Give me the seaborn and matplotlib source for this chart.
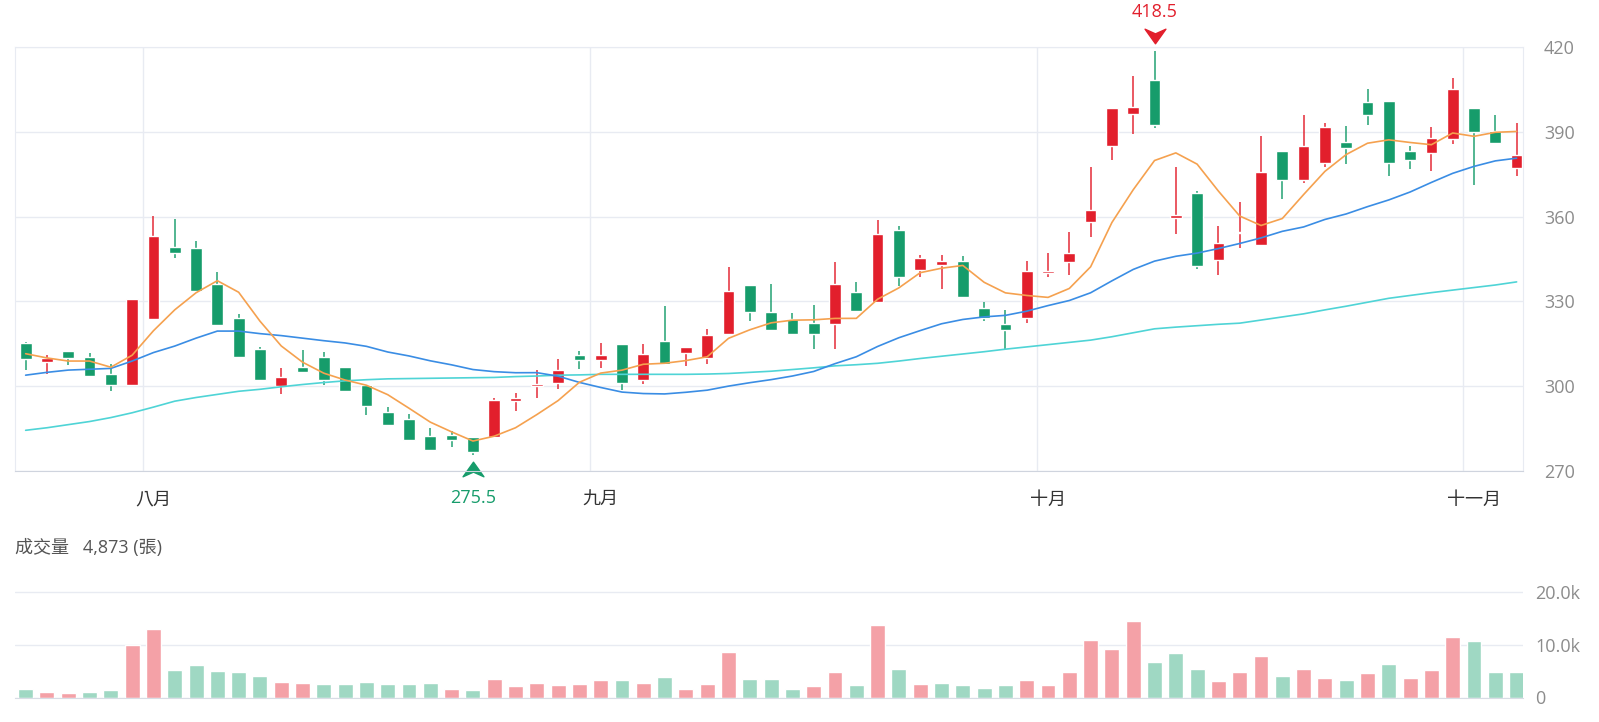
import numpy as np
import pandas as pd
import matplotlib
matplotlib.use("Agg")
import matplotlib.pyplot as plt
import seaborn as sns
from matplotlib.path import Path
from matplotlib.transforms import offset_copy

# ---------------------------
# Data
# ---------------------------
opens = [315.4, 308.6, 312.4, 310.4, 304.4, 300.4, 323.6, 349.3, 348.9, 336.1,
         324.3, 313.3, 300.1, 306.9, 310.4, 306.9, 300.4, 290.8, 288.4, 282.5,
         282.6, 281.9, 282.2, 294.6, 300.2, 301.0, 311.2, 309.2, 314.9, 302.2,
         315.9, 311.8, 310.0, 318.4, 335.8, 326.2, 323.8, 322.4, 322.1, 333.4,
         329.9, 355.4, 341.1, 342.9, 344.3, 327.7, 322.1, 324.1, 340.0, 343.9,
         358.1, 384.9, 396.4, 408.3, 359.5, 368.3, 344.7, 354.2, 349.9, 383.3,
         373.0, 379.0, 386.4, 400.5, 400.8, 383.3, 382.6, 387.6, 398.4, 390.3,
         377.3]
highs = [315.6, 311.2, 312.6, 311.9, 308.0, 330.8, 360.1, 359.2, 351.2, 340.4,
         325.6, 313.9, 306.3, 312.7, 312.1, 306.9, 300.4, 292.6, 290.1, 285.2,
         284.0, 282.0, 296.0, 297.5, 305.7, 309.6, 312.4, 315.2, 314.9, 315.0,
         328.2, 313.9, 320.3, 342.3, 335.8, 336.1, 325.9, 328.7, 344.1, 337.0,
         358.9, 356.6, 346.3, 346.4, 346.1, 329.9, 327.1, 344.3, 347.2, 354.6,
         377.6, 398.4, 409.8, 418.5, 377.6, 368.9, 356.6, 365.0, 388.4, 383.3,
         396.0, 393.1, 392.0, 405.1, 400.8, 385.0, 391.7, 409.0, 398.4, 395.8,
         393.1]
lows = [305.7, 304.4, 307.4, 303.4, 298.3, 300.4, 323.6, 345.5, 333.8, 321.7,
        310.4, 302.2, 297.2, 305.0, 300.4, 298.3, 289.9, 286.2, 281.1, 277.6,
        278.4, 275.5, 282.2, 291.3, 296.0, 298.9, 306.0, 306.3, 298.7, 300.7,
        307.7, 307.2, 308.0, 318.4, 323.2, 320.0, 318.6, 313.3, 313.3, 326.5,
        329.9, 335.3, 338.5, 334.4, 331.4, 322.9, 313.1, 322.4, 338.5, 339.3,
        352.7, 380.2, 389.3, 391.3, 353.7, 341.4, 339.3, 349.0, 349.9, 366.2,
        371.8, 377.4, 378.6, 392.3, 374.4, 376.7, 376.2, 385.8, 371.2, 386.1,
        374.4]
closes = [309.6, 310.0, 310.0, 303.6, 300.4, 330.8, 353.3, 347.0, 333.8, 321.7,
          310.4, 302.2, 303.1, 305.1, 302.2, 298.3, 293.0, 286.4, 281.1, 277.6,
          281.1, 276.8, 295.0, 296.0, 300.9, 305.9, 309.2, 311.2, 301.2, 311.3,
          307.7, 313.9, 318.0, 333.8, 326.4, 320.0, 318.6, 318.6, 336.3, 326.5,
          353.9, 338.7, 345.4, 344.2, 331.4, 324.1, 320.0, 340.8, 340.8, 347.2,
          362.4, 398.4, 398.7, 392.5, 360.7, 342.5, 350.7, 354.6, 375.8, 373.0,
          384.9, 391.7, 384.4, 395.8, 379.0, 380.2, 387.8, 405.1, 389.9, 386.1,
          381.7]
volumes = [1600, 1000, 900, 1000, 1400, 9900, 13000, 5300, 6100, 5000,
           4800, 4100, 2900, 2800, 2600, 2600, 2900, 2600, 2500, 2800,
           1600, 1400, 3600, 2100, 2700, 2300, 2500, 3400, 3400, 2800,
           3800, 1700, 2600, 8700, 3600, 3500, 1700, 2100, 4900, 2400,
           13700, 5500, 2500, 2700, 2300, 1800, 2300, 3400, 2300, 4900,
           10900, 9300, 14500, 6800, 8400, 5400, 3200, 4900, 7900, 4100,
           5500, 3700, 3400, 4700, 6300, 3700, 5200, 11500, 10700, 4800,
           4873]

# moving averages for the first days need history before the window
ma5_head = [311.5, 310.0, 308.9, 308.9]
ma20_head = [303.9, 304.9, 305.7, 306.0, 306.3, 308.9, 311.9, 314.2, 317.0, 319.5,
             319.5, 318.6, 317.9, 317.0, 316.1, 315.3, 314.1, 312.1, 310.7]
ma60 = [284.4, 285.3, 286.4, 287.5, 288.9, 290.6, 292.6, 294.7, 296.0, 297.1,
        298.2, 298.9, 299.8, 300.6, 301.3, 301.9, 302.3, 302.6, 302.7, 302.8,
        302.9, 303.0, 303.1, 303.4, 303.6, 303.9, 304.0, 304.2, 304.2, 304.2,
        304.2, 304.2, 304.3, 304.5, 304.9, 305.3, 305.9, 306.5, 307.2, 307.6,
        308.1, 308.9, 309.8, 310.6, 311.4, 312.2, 313.1, 313.9, 314.7, 315.5,
        316.3, 317.5, 318.9, 320.3, 320.9, 321.4, 321.9, 322.3, 323.4, 324.5,
        325.6, 327.0, 328.3, 329.7, 331.1, 332.1, 333.1, 334.0, 334.9, 335.8,
        336.9]

month_labels = ["八月", "九月", "十月", "十一月"]
month_start = [6, 27, 48, 68]
price_ticks = [270, 300, 330, 360, 390, 420]

df = pd.DataFrame({"open": opens, "high": highs, "low": lows,
                   "close": closes, "volume": volumes})
df["idx"] = np.arange(len(df))
df["ma5"] = df["close"].rolling(5).mean()
df.loc[:3, "ma5"] = ma5_head
df["ma20"] = df["close"].rolling(20).mean()
df.loc[:18, "ma20"] = ma20_head
df["ma60"] = ma60
up = df["close"] >= df["open"]
df["vdir"] = np.where(df["close"].diff().fillna(-1) >= 0, "up", "down")

RED = "#e21f2c"
GREEN = "#169c6b"
VRED = "#f4a1a7"
VGREEN = "#9fd8c3"
GRID = "#e8ebf2"

sns.set_style("white")
plt.rcParams["font.family"] = ["Open Sans", "Noto Sans CJK TC", "DejaVu Sans"]

fig = plt.figure(figsize=(15.99, 7.22), dpi=100)
W, H = 1599, 722
ax = fig.add_axes([15 / W, 251 / H, 1508 / W, 424 / H])
axv = fig.add_axes([15 / W, 24.5 / H, 1508 / W, 108 / H])

# ---------------------------
# Candles
# ---------------------------
cols = np.where(up, RED, GREEN)
ax.vlines(df["idx"], df["low"], df["high"], colors=cols, lw=1.3, alpha=0.8, zorder=2)
body_lo = np.minimum(df["open"], df["close"])
body_h = np.maximum((df["close"] - df["open"]).abs(), 0.45)
ax.bar(df["idx"], body_h, bottom=body_lo, width=0.55, color=cols, zorder=3)

sns.lineplot(x=df["idx"], y=df["ma60"], ax=ax, color="#4fd4d6", lw=1.2, zorder=4)
sns.lineplot(x=df["idx"], y=df["ma20"], ax=ax, color="#3a8de4", lw=1.2, zorder=4)
sns.lineplot(x=df["idx"], y=df["ma5"], ax=ax, color="#f5a14f", lw=1.2, zorder=5)

for m in month_start:
    ax.axvline(m - 0.5, color=GRID, lw=1, zorder=0)

ax.set_xlim(-0.5, 70.3)
ax.set_ylim(270, 420)
ax.set_yticks(price_ticks)
ax.grid(axis="y", color=GRID, lw=1)
ax.set_axisbelow(True)
ax.yaxis.tick_right()
ax.set_xticks(month_start, month_labels)
ax.tick_params(axis="x", length=0, pad=14, labelsize=13, labelcolor="#333333")
ax.tick_params(axis="y", length=0, pad=15, labelsize=13, labelcolor="#8c8c8c")
ax.set_xlabel("")
ax.set_ylabel("")
for s in ax.spines.values():
    s.set_color(GRID)
ax.spines["bottom"].set_color("#cfd4de")

# high / low markers
down_arrow = Path([(-1, 0.7), (0, 0.25), (1, 0.7), (0, -0.7), (-1, 0.7)],
                  [Path.MOVETO, Path.LINETO, Path.LINETO, Path.LINETO, Path.CLOSEPOLY])
up_arrow = Path([(-1, -0.7), (0, -0.25), (1, -0.7), (0, 0.7), (-1, -0.7)],
                [Path.MOVETO, Path.LINETO, Path.LINETO, Path.LINETO, Path.CLOSEPOLY])
px = 0.72  # points per pixel

hi_i = df["high"].idxmax()
hi = df["high"].max()
ax.plot([hi_i], [hi], marker=down_arrow, ms=15, color=RED, ls="none", clip_on=False,
        transform=offset_copy(ax.transData, fig=fig, x=0, y=15 * px, units="points"))
ax.annotate(f"{hi:.1f}", (hi_i, hi), xytext=(0, 39 * px), textcoords="offset points",
            ha="center", va="center", color=RED, fontsize=13, annotation_clip=False)

lo_i = df["low"].idxmin()
lo = df["low"].min()
ax.plot([lo_i], [lo], marker=up_arrow, ms=15, color=GREEN, ls="none", clip_on=False,
        transform=offset_copy(ax.transData, fig=fig, x=0, y=-14 * px, units="points"))
ax.annotate(f"{lo:.1f}", (lo_i, lo), xytext=(0, -43 * px), textcoords="offset points",
            ha="center", va="center", color=GREEN, fontsize=13, annotation_clip=False)

# ---------------------------
# Volume
# ---------------------------
sns.barplot(x=df["idx"], y=df["volume"], hue=df["vdir"],
            palette={"up": VRED, "down": VGREEN}, dodge=False, width=0.7,
            saturation=1, errorbar=None, legend=False, ax=axv)
axv.set_xlim(-0.5, 70.3)
axv.set_ylim(0, 20500)
axv.set_yticks([0, 10000, 20000], ["0", "10.0k", "20.0k"])
axv.yaxis.tick_right()
axv.grid(axis="y", color=GRID, lw=1)
axv.set_axisbelow(True)
axv.set_xticks([])
axv.set_xlabel("")
axv.set_ylabel("")
axv.tick_params(axis="y", length=0, pad=9, labelsize=13, labelcolor="#8c8c8c")
for side in ["top", "left", "right"]:
    axv.spines[side].set_visible(False)
axv.spines["bottom"].set_color("#d8dce5")

fig.text(15 / W, 1 - 548 / H, f"成交量   {volumes[-1]:,} (張)", fontsize=13,
         color="#555555", va="center", ha="left")

fig.savefig("out.png", dpi=100)
